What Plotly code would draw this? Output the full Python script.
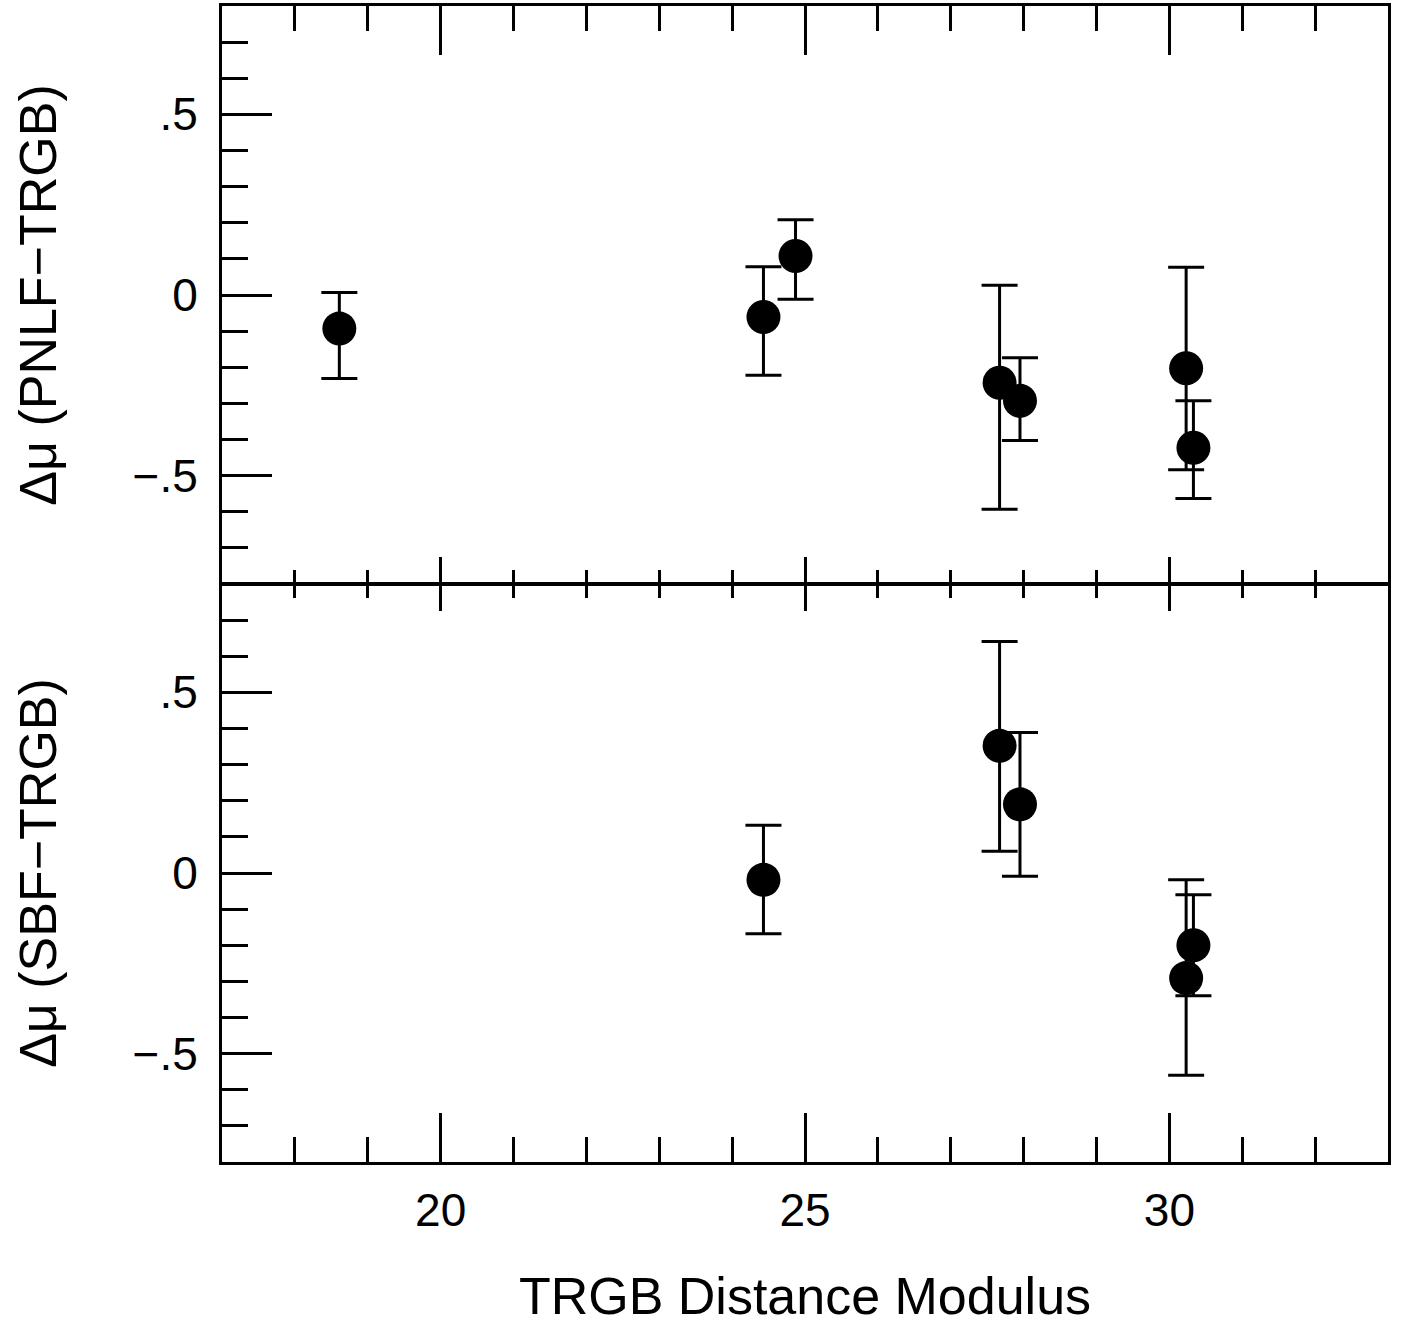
import plotly.graph_objects as go

# --- data ---
# Top panel: PNLF - TRGB
pnlf_x = [18.61, 24.43, 24.87, 27.67, 27.95, 30.23, 30.33]
pnlf_y = [-0.093, -0.061, 0.108, -0.243, -0.293, -0.203, -0.423]
pnlf_err_plus = [0.100, 0.139, 0.100, 0.270, 0.119, 0.280, 0.130]
pnlf_err_minus = [0.138, 0.161, 0.120, 0.350, 0.110, 0.281, 0.140]

# Bottom panel: SBF - TRGB
sbf_x = [24.43, 27.67, 27.95, 30.23, 30.33]
sbf_y = [-0.019, 0.352, 0.190, -0.291, -0.200]
sbf_err_plus = [0.151, 0.289, 0.199, 0.272, 0.140]
sbf_err_minus = [0.149, 0.292, 0.199, 0.269, 0.140]

x_range = [17, 33]
y_range = [-0.8, 0.8]
y_tickvals = [-0.5, 0, 0.5]
y_ticktext = ["\u2212.5", "0", ".5"]
x_tickvals = [20, 25, 30]
x_ticktext = ["20", "25", "30"]

FONT = "Liberation Sans, Arial, Helvetica, sans-serif"

fig = go.Figure()


def add_points(x, y, ep, em, xa, ya):
    fig.add_trace(go.Scatter(
        x=x, y=y, mode="markers", xaxis=xa, yaxis=ya,
        marker=dict(size=34, color="black", symbol="circle", line=dict(width=0)),
        error_y=dict(type="data", symmetric=False, array=ep, arrayminus=em,
                     thickness=3, width=18, color="black"),
        showlegend=False, hoverinfo="x+y",
    ))


def add_ghost(x, y, xa, ya):
    # invisible copy so that the overlay (inner-edge tick) axes get drawn
    fig.add_trace(go.Scatter(
        x=x, y=y, mode="markers", xaxis=xa, yaxis=ya,
        marker=dict(size=1, color="rgba(0,0,0,0)"),
        showlegend=False, hoverinfo="skip",
    ))


add_points(pnlf_x, pnlf_y, pnlf_err_plus, pnlf_err_minus, "x", "y")
add_points(sbf_x, sbf_y, sbf_err_plus, sbf_err_minus, "x2", "y2")
add_ghost(pnlf_x, pnlf_y, "x3", "y")
add_ghost(sbf_x, sbf_y, "x4", "y2")

common_x = dict(range=x_range, showgrid=False, zeroline=False, showline=True,
                linecolor="black", linewidth=3, ticks="inside", tickwidth=3,
                tickcolor="black", tickvals=x_tickvals, ticktext=x_ticktext,
                tickfont=dict(family=FONT, size=46, color="black"))


def xa(**kw):
    d = dict(common_x)
    d.update(kw)
    return d


def ya(title, anchor, domain):
    return dict(
        domain=domain, anchor=anchor, range=y_range, showgrid=False, zeroline=False,
        showline=True, linecolor="black", linewidth=3, mirror=True,
        ticks="inside", ticklen=50, tickwidth=3, tickcolor="black",
        tickvals=y_tickvals, ticktext=y_ticktext, ticklabelstandoff=12,
        tickfont=dict(family=FONT, size=46, color="black"),
        minor=dict(ticks="inside", ticklen=26, tickwidth=3, tickcolor="black",
                   tick0=0, dtick=0.1),
        title=dict(text=title, font=dict(family=FONT, size=52, color="black"),
                   standoff=60),
    )


fig.update_layout(
    width=1404, height=1325,
    paper_bgcolor="white", plot_bgcolor="white",
    margin=dict(l=222, r=16, t=6, b=154),
    font=dict(family=FONT, color="black"),
    xaxis=xa(domain=[0, 1], anchor="y", side="top", ticklen=49, showticklabels=False,
             minor=dict(ticks="inside", ticklen=25, tickwidth=3, tickcolor="black", dtick=1, tick0=0)),
    xaxis3=xa(overlaying="x", anchor="y", side="bottom", ticklen=27, showticklabels=False,
              linewidth=1.5,
              minor=dict(ticks="inside", ticklen=14, tickwidth=3, tickcolor="black", dtick=1, tick0=0)),
    xaxis2=xa(domain=[0, 1], anchor="y2", side="bottom", ticklen=49, showticklabels=True,
              ticklabelstandoff=6,
              minor=dict(ticks="inside", ticklen=25, tickwidth=3, tickcolor="black", dtick=1, tick0=0),
              title=dict(text="TRGB Distance Modulus",
                         font=dict(family=FONT, size=52, color="black"), standoff=46)),
    xaxis4=xa(overlaying="x2", anchor="y2", side="top", ticklen=27, showticklabels=False,
              linewidth=1.5,
              minor=dict(ticks="inside", ticklen=14, tickwidth=3, tickcolor="black", dtick=1, tick0=0)),
    yaxis=ya("\u0394\u03bc (PNLF\u2212TRGB)", "x", [0.5, 1]),
    yaxis2=ya("\u0394\u03bc (SBF\u2212TRGB)", "x2", [0, 0.5]),
)

fig.write_html("out.html", config={"displayModeBar": False},
               post_script="document.body.style.margin='0';document.body.style.padding='0';")
